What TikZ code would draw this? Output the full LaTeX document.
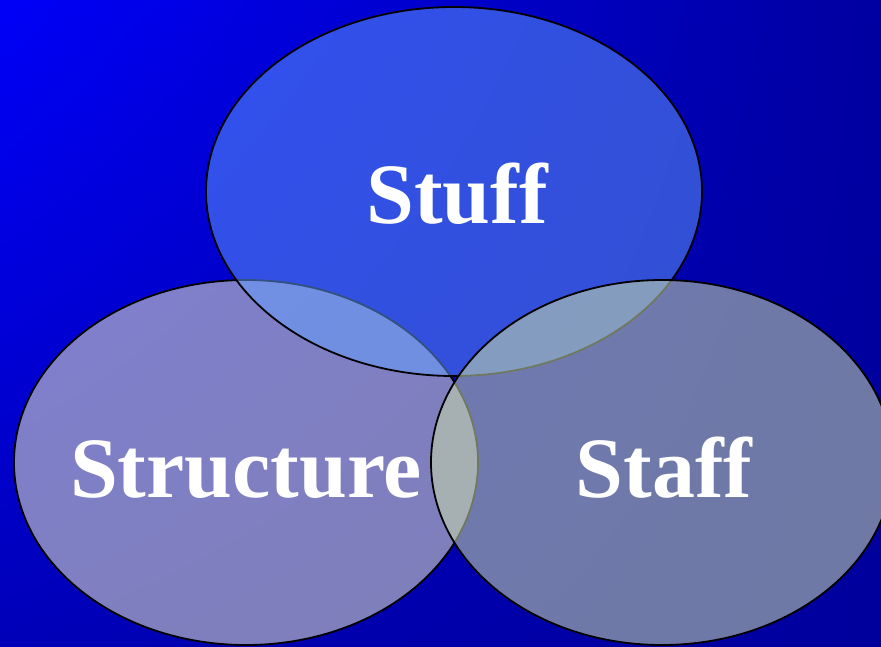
\documentclass[tikz,border=0pt]{standalone}
\usepackage{fontspec}
\setmainfont{Liberation Serif}
\usetikzlibrary{shadings}
\definecolor{bgtl}{RGB}{0,0,248}
\definecolor{bgtr}{RGB}{0,0,160}
\definecolor{bgbl}{RGB}{0,0,184}
\definecolor{bgbr}{RGB}{0,0,156}
\definecolor{stufffill}{RGB}{100,160,255}
\definecolor{structfill}{RGB}{233,233,200}
\definecolor{stafffill}{RGB}{198,216,171}
\tikzset{
	venn/.style={draw=black, line width=1.8pt},
	vennword/.style={text=white, anchor=base, inner sep=0pt, font=\fontsize{86}{90}\selectfont\bfseries}
}
\begin{document}
\begin{tikzpicture}[x=1pt,y=-1pt]
	\useasboundingbox (0,0) rectangle (881,646);
	\shade [upper left=bgtl, upper right=bgtr, lower left=bgbl, lower right=bgbr] (0,0) rectangle (881,646);
	% the three circles of the diagram
	\begin{scope}
	\clip (0,0) rectangle (881,646);
	\draw [venn, fill=structfill, fill opacity=0.55] (246,462.5) ellipse [x radius=232, y radius=182.5];
	\draw [venn, fill=stufffill, fill opacity=0.5] (454,191.5) ellipse [x radius=248, y radius=184.5];
	\draw [venn, fill=stafffill, fill opacity=0.56] (662,462.5) ellipse [x radius=231, y radius=182.5];
	\end{scope}
	\node [vennword] (stuff) at (457,223) {Stuff};
	\node [vennword] (structure) at (246,497) {Structure};
	\node [vennword] (staff) at (664,497) {Staff};
\end{tikzpicture}
\end{document}
